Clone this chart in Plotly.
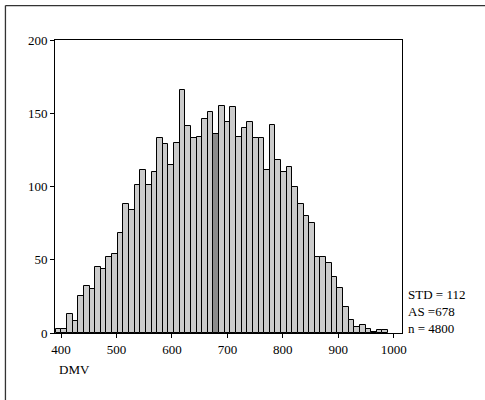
import plotly.graph_objects as go

# Histogram of DMV (59 bins, automatic bin width)
bin_start = 390.4
bin_width = 10.16
counts = [3, 3, 13, 8, 25, 32, 30, 45, 44, 52,
          54, 68, 88, 84, 101, 111, 101, 110, 133, 129,
          115, 130, 166, 141, 133, 134, 146, 151, 136, 155,
          144, 154, 134, 140, 144, 133, 133, 111, 142, 118,
          110, 113, 100, 88, 80, 75, 52, 52, 48, 38,
          31, 18, 9, 4, 5.5, 3, 1, 2, 2]
mean_value = 678
stats_lines = ["STD = 112", "AS =678", "n = 4800"]
x_ticks = [400, 500, 600, 700, 800, 900, 1000]
y_ticks = [0, 50, 100, 150, 200]
x_title = "DMV"

centers = [bin_start + bin_width * (i + 0.5) for i in range(len(counts))]
colors = []
for i in range(len(counts)):
    lo = bin_start + bin_width * i
    colors.append("#8c8c8c" if lo <= mean_value < lo + bin_width else "#cbcbcb")

FONT = "Liberation Serif, Times New Roman, serif"

fig = go.Figure(go.Bar(
    x=centers, y=counts, width=bin_width,
    marker=dict(color=colors, line=dict(color="#000000", width=1)),
    hoverinfo="skip",
))

fig.update_layout(
    width=485, height=400,
    margin=dict(l=55, r=83, t=40, b=67),
    paper_bgcolor="white", plot_bgcolor="white",
    font=dict(family=FONT, size=13, color="#000000"),
    showlegend=False, bargap=0,
)
fig.update_xaxes(
    range=[389, 1015], tickvals=x_ticks, ticks="outside", ticklen=4,
    tickcolor="#000000", showgrid=False, zeroline=False,
    showline=True, linecolor="#000000", linewidth=1, mirror=True,
    tickfont=dict(family=FONT, size=13),
)
fig.update_yaxes(
    range=[0, 200], tickvals=y_ticks, ticks="outside", ticklen=4,
    tickcolor="#000000", showgrid=False, zeroline=False,
    showline=True, linecolor="#000000", linewidth=1, mirror=True,
    tickfont=dict(family=FONT, size=13),
)

# statistics text
for i, s in enumerate(stats_lines):
    fig.add_annotation(
        xref="paper", yref="paper", x=(406 - 55) / 346.6,
        y=(333.3 - (295 + 16.7 * i)) / 293.3,
        text=s, showarrow=False, xanchor="left", yanchor="middle",
        font=dict(family=FONT, size=13),
    )
# axis title
fig.add_annotation(
    xref="paper", yref="paper", x=(57 - 55) / 346.6, y=(333.3 - 370) / 293.3,
    text=x_title, showarrow=False, xanchor="left", yanchor="middle",
    font=dict(family=FONT, size=13),
)

# outer frame (top and left edges visible)
fig.add_shape(type="line", xref="paper", yref="paper",
              x0=(5.5 - 55) / 346.6, x1=(500 - 55) / 346.6,
              y0=(333.3 - 5.5) / 293.3, y1=(333.3 - 5.5) / 293.3,
              line=dict(color="#333333", width=1.3))
fig.add_shape(type="line", xref="paper", yref="paper",
              x0=(5.5 - 55) / 346.6, x1=(5.5 - 55) / 346.6,
              y0=(333.3 - 5.5) / 293.3, y1=(333.3 - 420) / 293.3,
              line=dict(color="#333333", width=1.3))

fig.write_html("out.html", config={"displayModeBar": False},
               post_script="document.body.style.margin='0';document.body.style.overflow='hidden';")
